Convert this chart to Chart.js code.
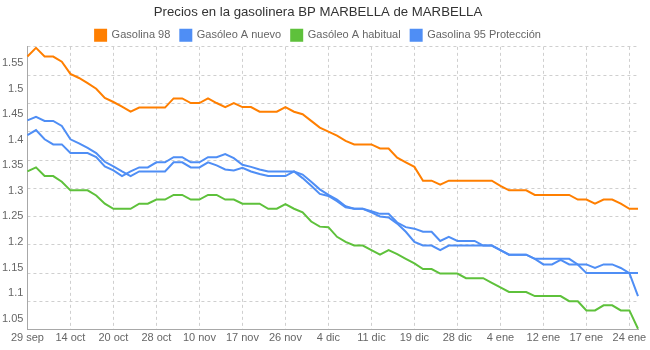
<!DOCTYPE html>
<html>
<head>
<meta charset="utf-8">
<script src="https://cdn.jsdelivr.net/npm/chart.js@4"></script>
<style>
    body { margin: 0; background: #fff; }
    #wrap { width: 650px; height: 350px; }
</style>
</head>
<body>
<div id="wrap"><canvas id="priceChart"></canvas></div>
<script>
const fechas = [
    '29 sep', '2 oct', '5 oct', '8 oct', '11 oct',
    '14 oct', '15 oct', '16 oct', '17 oct', '19 oct',
    '20 oct', '21 oct', '23 oct', '24 oct', '26 oct',
    '28 oct', '31 oct', '3 nov', '5 nov', '8 nov',
    '10 nov', '11 nov', '13 nov', '14 nov', '16 nov',
    '17 nov', '19 nov', '21 nov', '22 nov', '24 nov',
    '26 nov', '27 nov', '29 nov', '1 dic', '2 dic',
    '4 dic', '5 dic', '7 dic', '8 dic', '10 dic',
    '11 dic', '12 dic', '14 dic', '15 dic', '17 dic',
    '19 dic', '21 dic', '22 dic', '24 dic', '26 dic',
    '28 dic', '29 dic', '31 dic', '1 ene', '2 ene',
    '4 ene', '5 ene', '7 ene', '9 ene', '10 ene',
    '12 ene', '13 ene', '14 ene', '15 ene', '16 ene',
    '17 ene', '18 ene', '20 ene', '21 ene', '22 ene',
    '24 ene', '27 ene'
];

const gasolina98 = [
    1.563, 1.580, 1.563, 1.563, 1.553, 1.529, 1.521, 1.511, 1.500, 1.482,
    1.474, 1.465, 1.455, 1.463, 1.463, 1.463, 1.463, 1.481, 1.481, 1.472,
    1.472, 1.481, 1.472, 1.464, 1.472, 1.464, 1.464, 1.455, 1.455, 1.455,
    1.464, 1.455, 1.450, 1.437, 1.424, 1.416, 1.408, 1.398, 1.391, 1.391,
    1.391, 1.383, 1.383, 1.365, 1.356, 1.347, 1.320, 1.320, 1.312, 1.320,
    1.320, 1.320, 1.320, 1.320, 1.320, 1.310, 1.301, 1.301, 1.301, 1.292,
    1.292, 1.292, 1.292, 1.292, 1.283, 1.283, 1.275, 1.283, 1.283, 1.275,
    1.265, 1.265
];

const gasoleoNuevo = [
    1.438, 1.445, 1.437, 1.437, 1.427, 1.401, 1.393, 1.384, 1.374, 1.357,
    1.348, 1.338, 1.329, 1.338, 1.338, 1.338, 1.338, 1.356, 1.356, 1.346,
    1.346, 1.356, 1.350, 1.342, 1.340, 1.345, 1.338, 1.333, 1.329, 1.329,
    1.329, 1.338, 1.325, 1.310, 1.294, 1.290, 1.280, 1.268, 1.265, 1.265,
    1.258, 1.250, 1.248, 1.236, 1.220, 1.200, 1.193, 1.193, 1.184, 1.193,
    1.193, 1.193, 1.193, 1.193, 1.193, 1.184, 1.175, 1.175, 1.175, 1.167,
    1.167, 1.167, 1.167, 1.167, 1.156, 1.139, 1.139, 1.139, 1.139, 1.139,
    1.139, 1.139
];

const gasoleoHabitual = [
    1.338, 1.346, 1.329, 1.329, 1.318, 1.301, 1.301, 1.301, 1.291, 1.275,
    1.265, 1.265, 1.265, 1.275, 1.275, 1.283, 1.283, 1.292, 1.292, 1.283,
    1.283, 1.292, 1.292, 1.283, 1.283, 1.275, 1.275, 1.275, 1.265, 1.265,
    1.274, 1.265, 1.258, 1.240, 1.230, 1.229, 1.210, 1.200, 1.193, 1.193,
    1.184, 1.175, 1.184, 1.176, 1.167, 1.158, 1.147, 1.147, 1.138, 1.138,
    1.138, 1.129, 1.129, 1.129, 1.120, 1.111, 1.102, 1.102, 1.102, 1.094,
    1.094, 1.094, 1.094, 1.084, 1.084, 1.066, 1.066, 1.076, 1.076, 1.066,
    1.066, 1.030
];

const gasolina95 = [
    1.409, 1.419, 1.401, 1.391, 1.391, 1.374, 1.374, 1.374, 1.366, 1.348,
    1.340, 1.329, 1.338, 1.346, 1.346, 1.356, 1.356, 1.366, 1.366, 1.356,
    1.356, 1.366, 1.366, 1.372, 1.364, 1.351, 1.347, 1.342, 1.338, 1.338,
    1.338, 1.338, 1.332, 1.318, 1.303, 1.292, 1.283, 1.270, 1.265, 1.265,
    1.260, 1.255, 1.255, 1.238, 1.229, 1.226, 1.220, 1.220, 1.202, 1.210,
    1.202, 1.202, 1.202, 1.193, 1.193, 1.184, 1.175, 1.175, 1.175, 1.167,
    1.156, 1.156, 1.165, 1.156, 1.156, 1.156, 1.149, 1.156, 1.156, 1.149,
    1.139, 1.094
];

const yTickLabels = [1.05, 1.1, 1.15, 1.2, 1.25, 1.3, 1.35, 1.4, 1.45, 1.5, 1.55];
const yMin = 1.028;
const yMax = 1.582;
const xTickStep = 5;

const FONT = "'Liberation Sans', Arial, Helvetica, sans-serif";
const gridColor = '#cfcfcf';
const axisColor = '#a8a8a8';

function serie(label, data, color) {
    return {
        label: label,
        data: data,
        borderColor: color,
        backgroundColor: color,
        borderWidth: 2,
        pointRadius: 0,
        tension: 0,
        fill: false
    };
}

// the legend in the original sits close to the plot: trim its bottom gap
const legendGap = {
    id: 'legendGap',
    beforeInit(chart) {
        const fit = chart.legend.fit;
        chart.legend.fit = function () {
            fit.bind(chart.legend)();
            this.height -= 4;
        };
    }
};

const ctx = document.getElementById('priceChart').getContext('2d');

new Chart(ctx, {
    type: 'line',
    data: {
        labels: fechas,
        datasets: [
            serie('Gasolina 98', gasolina98, '#ff7f00'),
            serie('Gasóleo A nuevo', gasoleoNuevo, '#4f8ef5'),
            serie('Gasóleo A habitual', gasoleoHabitual, '#5ec13b'),
            serie('Gasolina 95 Protección', gasolina95, '#4f8ef5')
        ]
    },
    plugins: [legendGap],
    options: {
        responsive: true,
        maintainAspectRatio: false,
        animation: false,
        layout: { padding: { left: -2, right: 12, top: 0, bottom: 3 } },
        plugins: {
            title: {
                display: true,
                text: 'Precios en la gasolinera BP MARBELLA de MARBELLA',
                color: '#333',
                font: { family: FONT, size: 13.2, weight: 'normal' },
                padding: { top: 4, bottom: 0 }
            },
            legend: {
                position: 'top',
                labels: {
                    color: '#666',
                    boxWidth: 11,
                    boxHeight: 11,
                    padding: 10,
                    font: { family: FONT, size: 11 }
                }
            },
            tooltip: { enabled: false }
        },
        scales: {
            x: {
                grid: {
                    color: c => (c.index % xTickStep === 0 ? gridColor : 'rgba(0,0,0,0)'),
                    drawTicks: false
                },
                border: { display: true, color: axisColor, dash: [3, 3] },
                ticks: {
                    autoSkip: false,
                    maxRotation: 0,
                    padding: 2,
                    color: '#666',
                    font: { family: FONT, size: 11 },
                    callback: function (value, index) {
                        return index % xTickStep === 0 ? this.getLabelForValue(value) : '';
                    }
                }
            },
            y: {
                min: yMin,
                max: yMax,
                afterBuildTicks: scale => {
                    scale.ticks = yTickLabels.map(v => ({ value: v }));
                },
                grid: { display: false, drawTicks: false },
                border: { display: true, color: axisColor },
                ticks: {
                    padding: 4,
                    color: '#666',
                    font: { family: FONT, size: 11 },
                    callback: v => String(+v.toFixed(2))
                }
            },
            yGrid: {
                position: 'right',
                min: yMin,
                max: yMax,
                afterBuildTicks: scale => {
                    const n = 10;
                    scale.ticks = [];
                    for (let k = 0; k <= n; k++) {
                        scale.ticks.push({ value: yMin + k * (yMax - yMin) / n });
                    }
                },
                grid: { color: gridColor, drawTicks: false },
                border: { display: false, dash: [3, 3] },
                ticks: { display: false }
            }
        }
    }
});
</script>
</body>
</html>
